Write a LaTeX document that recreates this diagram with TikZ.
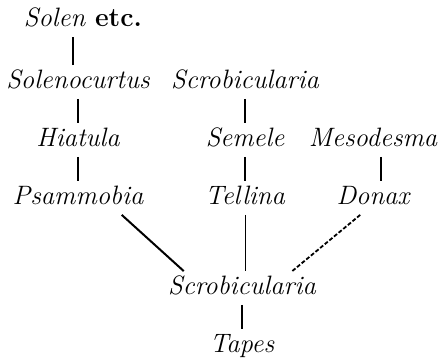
\documentclass[tikz,border=0pt]{standalone}
\usepackage{tikz}
\usetikzlibrary{positioning}
\tikzset{
  taxon/.style     = {font=\fontsize{13.3}{16}\selectfont\itshape, inner xsep=0pt, inner ysep=2.25pt, text height=9pt, text depth=3pt},
  treeedge/.style  = {black, line width=1pt},
  thinedge/.style  = {black, line width=0.5pt},
  dottededge/.style = {black, line width=0.9pt, dash pattern=on 2pt off 1pt},
}

\begin{document}
\begin{tikzpicture}[x=0.5pt,y=-0.5pt,node distance=29pt]
      \useasboundingbox (0,0) rectangle (438,360);
      \tikzstyle{every node} = [taxon]
      \node (solen) at (83,20) {Solen \textup{\textbf{etc.}}};
      \node (solenocurtus) at (78,82) {Solenocurtus};
      \node [below of=solenocurtus] (hiatula) {Hiatula};
      \node [below of=hiatula] (psammobia) {Psammobia};
      \node (scrobtop) at (245,82) {Scrobicularia};
      \node [below of=scrobtop] (semele) {Semele};
      \node [below of=semele] (tellina) {Tellina};
      \node (mesodesma) at (373,140) {Mesodesma};
      \node [below of=mesodesma] (donax) {Donax};
      \node (scrob) at (242,288) {Scrobicularia};
      \node [below of=scrob] (tapes) {Tapes};

      \path ([xshift=-2.5pt]solenocurtus.north) edge[treeedge] ([xshift=-2.5pt]solenocurtus.north |- solen.south);
      \path (solenocurtus) edge[treeedge] (hiatula);
      \path (hiatula) edge[treeedge] (psammobia);
      \path (scrobtop) edge[treeedge] (semele);
      \path (semele) edge[treeedge] (tellina);
      \path ([xshift=4pt]mesodesma.south) edge[treeedge] ([xshift=4pt]donax.north);
      \path ([xshift=-11pt]psammobia.south east) edge[treeedge] ([xshift=8pt]scrob.north west);
      \path (tellina.south) edge[thinedge] (tellina.south |- scrob.north);
      \path ([xshift=12pt]donax.south west) edge[dottededge] ([xshift=-12pt]scrob.north east);
      \path (scrob) edge[treeedge] (tapes);
\end{tikzpicture}
\end{document}
